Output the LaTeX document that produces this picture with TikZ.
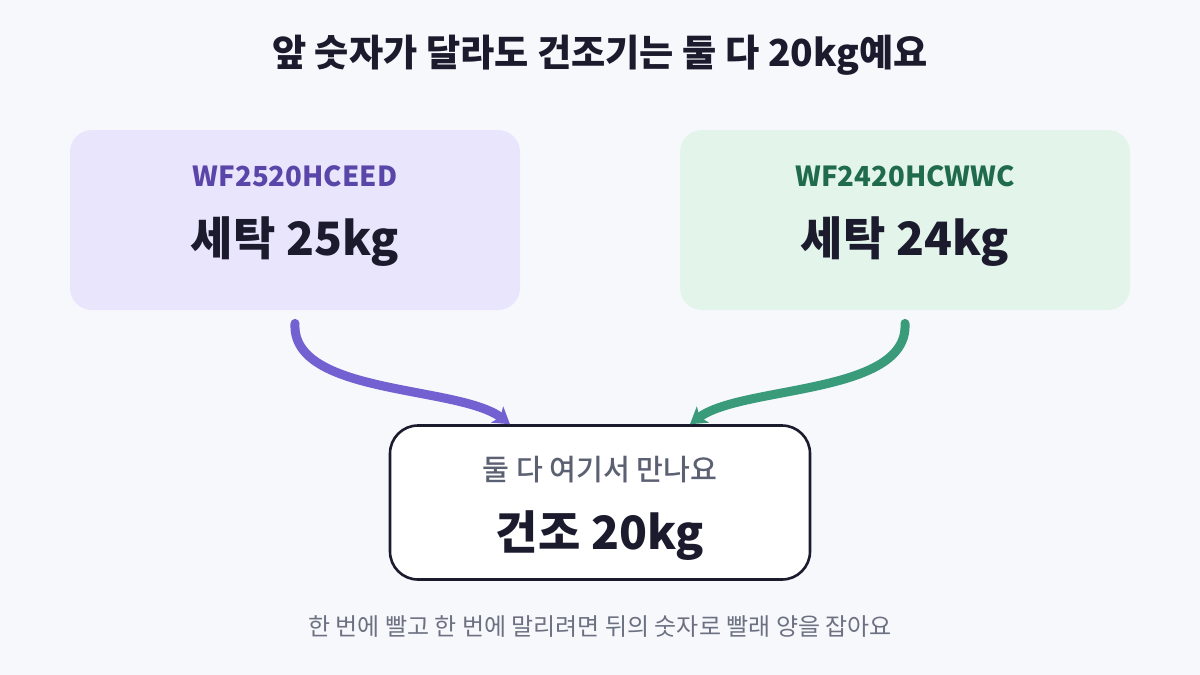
\documentclass[tikz,border=0pt]{standalone}
\usepackage{fontspec}
\setmainfont{Noto Sans CJK KR}
\newfontfamily\medfont{Noto Sans CJK KR}[UprightFont={* Medium}]
\usepackage{xcolor}
\usetikzlibrary{positioning,arrows.meta,calc}
\definecolor{bgcolor}{HTML}{F7F8FC}
\definecolor{washcolor}{HTML}{E9E5FD}
\definecolor{washtext}{HTML}{5A46A8}
\definecolor{washline}{HTML}{7461D1}
\definecolor{altcolor}{HTML}{E3F4EB}
\definecolor{alttext}{HTML}{1F6B4B}
\definecolor{altline}{HTML}{3A9B7B}
\definecolor{inkcolor}{HTML}{1C1B2E}
\definecolor{subcolor}{HTML}{5B6072}
\definecolor{notecolor}{HTML}{6C7182}
\tikzset{
    model box/.style={rectangle, rounded corners=11pt, minimum width=225pt, minimum height=90pt, inner sep=0pt},
    wash box/.style={model box, fill=washcolor},
    alt box/.style={model box, fill=altcolor},
    dry box/.style={rectangle, rounded corners=14pt, draw=inkcolor, line width=1.3pt, fill=white, minimum width=210pt, minimum height=77pt, inner sep=0pt},
    title label/.style={font=\fontsize{18.6}{22}\selectfont\bfseries, text=inkcolor},
    model label/.style={font=\fontsize{13.8}{16}\selectfont\bfseries},
    weight label/.style={font=\fontsize{23}{27}\selectfont\bfseries, text=inkcolor},
    sub label/.style={font=\fontsize{14.6}{17}\selectfont\medfont, text=subcolor},
    note label/.style={font=\fontsize{12}{15}\selectfont, text=notecolor},
    feed arrow/.style={-{Stealth[length=8pt,width=10pt,inset=2pt]}, line width=4.5pt, line cap=round}
}

\begin{document}
\begin{tikzpicture}[x=0.5pt, y=-0.5pt]
    % Canvas
    \fill[bgcolor] (0,0) rectangle (1200,675);
    \useasboundingbox (0,0) rectangle (1200,675);

    % Title
    \node[title label] (title) at (600,55) {앞 숫자가 달라도 건조기는 둘 다 20kg예요};

    % Washer boxes
    \node[wash box] (wash25) at (295,220) {};
    \node[model label, text=washtext] (wash25 model) at (295,176) {WF2520HCEED};
    \node[weight label] (wash25 weight) at (295,242) {세탁 25kg};

    \node[alt box] (wash24) at (905,220) {};
    \node[model label, text=alttext] (wash24 model) at (905,176) {WF2420HCWWC};
    \node[weight label] (wash24 weight) at (905,242) {세탁 24kg};

    % Dryer box
    \node[dry box] (dry) at (600,502.5) {};
    \node[sub label] (dry sub) at (600,470) {둘 다 여기서 만나요};
    \node[weight label] (dry weight) at (600,536) {건조 20kg};

    % Arrows into the dryer
    \coordinate (wash25 start) at ($(wash25.south)+(0,13)$);
    \coordinate (wash25 end) at ($(dry.north)+(-90,0)$);
    \coordinate (wash24 start) at ($(wash24.south)+(0,13)$);
    \coordinate (wash24 end) at ($(dry.north)+(90,0)$);
    \draw[feed arrow, washline] (wash25 start) .. controls +(-4,72) and +(-52,-39) .. (wash25 end);
    \draw[feed arrow, altline] (wash24 start) .. controls +(4,72) and +(52,-39) .. (wash24 end);

    % Footer note
    \node[note label] (note) at (600,627) {한 번에 빨고 한 번에 말리려면 뒤의 숫자로 빨래 양을 잡아요};
\end{tikzpicture}
\end{document}
